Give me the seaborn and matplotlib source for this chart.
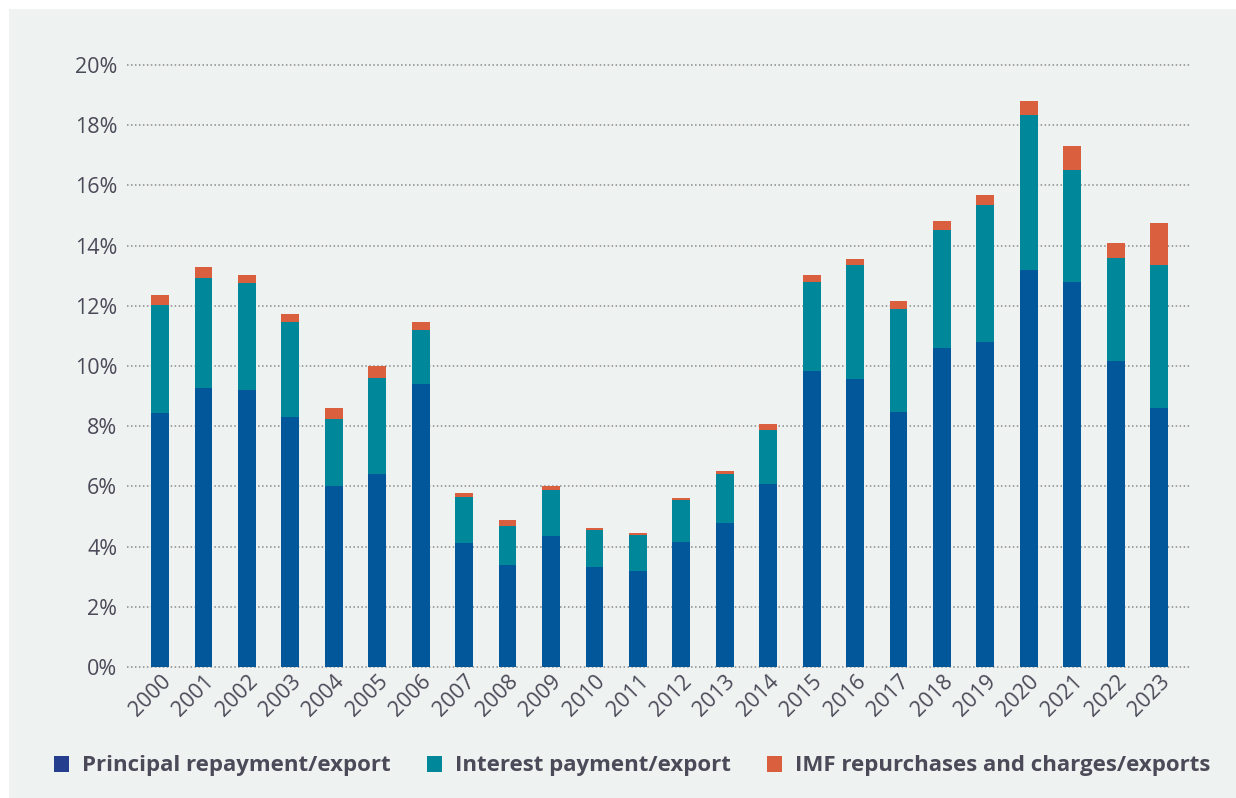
import matplotlib
matplotlib.use("Agg")
import matplotlib.pyplot as plt
import seaborn as sns
import pandas as pd
import numpy as np
from matplotlib.patches import Rectangle, Patch

years = [str(y) for y in range(2000, 2024)]
principal = [8.44, 9.27, 9.20, 8.31, 6.01, 6.41, 9.40, 4.12, 3.39, 4.35, 3.32, 3.19,
             4.15, 4.78, 6.08, 9.83, 9.57, 8.47, 10.60, 10.80, 13.19, 12.79, 10.17, 8.60]
interest = [3.59, 3.65, 3.56, 3.15, 2.23, 3.19, 1.80, 1.53, 1.29, 1.53, 1.23, 1.20,
            1.40, 1.63, 1.79, 2.96, 3.79, 3.42, 3.92, 4.55, 5.15, 3.72, 3.42, 4.76]
imf = [0.33, 0.37, 0.26, 0.27, 0.36, 0.40, 0.26, 0.13, 0.20, 0.13, 0.07, 0.06,
       0.06, 0.10, 0.20, 0.23, 0.19, 0.27, 0.30, 0.33, 0.46, 0.80, 0.50, 1.39]
series_names = ["Principal repayment/export", "Interest payment/export",
                "IMF repurchases and charges/exports"]

df = pd.DataFrame({"year": years, "principal": principal, "interest": interest, "imf": imf})
df["top_interest"] = df["principal"] + df["interest"]
df["top_imf"] = df["top_interest"] + df["imf"]

c_principal = "#02579A"
c_interest = "#00879A"
c_imf = "#D95F3E"
legend_principal = "#253F8E"
bg = "#EEF2F1"
txt = "#4A4A58"

sns.set_theme(style="white")
plt.rcParams["font.family"] = ["Open Sans", "DejaVu Sans"]

fig = plt.figure(figsize=(12.36, 7.98), dpi=100, facecolor="white")
fig.patches.append(Rectangle((9 / 1236, 0), 1 - 9 / 1236, 1 - 9 / 798,
                             transform=fig.transFigure, facecolor=bg,
                             edgecolor="none", zorder=-10))

W, H = 1236, 798
left, right, top, bottom = 127, 1190, 65, 667
ax = fig.add_axes([left / W, 1 - bottom / H, (right - left) / W, (bottom - top) / H])
ax.set_facecolor("none")

for col, color in [("top_imf", c_imf), ("top_interest", c_interest), ("principal", c_principal)]:
    sns.barplot(data=df, x="year", y=col, color=color, width=0.41, ax=ax,
                saturation=1, linewidth=0, zorder=3)

ax.set_xlim(-0.76, 23.71)
ax.set_ylim(0, 20)
ax.set_yticks(np.arange(0, 21, 2))
ax.set_yticklabels([f"{v}%" for v in range(0, 21, 2)])
ax.yaxis.grid(True, color="#8A8A8A", linestyle=(0, (1, 1.6)), linewidth=1.1, zorder=0)
for gl in ax.get_ygridlines():
    gl.set_clip_on(False)
ax.set_axisbelow(True)
for s in ax.spines.values():
    s.set_visible(False)
ax.set_xlabel("")
ax.set_ylabel("")
ax.tick_params(axis="both", length=0, colors=txt, labelsize=15.5)
ax.tick_params(axis="y", pad=7)
ax.tick_params(axis="x", pad=3)
plt.setp(ax.get_xticklabels(), rotation=45, ha="right", va="top",
         rotation_mode="anchor", color=txt)
plt.setp(ax.get_yticklabels(), color=txt)

handles = [Patch(facecolor=legend_principal, edgecolor="none"),
           Patch(facecolor=c_interest, edgecolor="none"),
           Patch(facecolor=c_imf, edgecolor="none")]
leg = fig.legend(handles, series_names, loc="center left",
                 bbox_to_anchor=(54 / W, 1 - 766 / H), ncol=3, frameon=False,
                 borderpad=0, borderaxespad=0,
                 handlelength=0.68, handleheight=0.72, handletextpad=0.6,
                 columnspacing=1.6, prop={"weight": "bold", "size": 16})
for t in leg.get_texts():
    t.set_color(txt)

fig.savefig("out.png", dpi=100, facecolor="white")
